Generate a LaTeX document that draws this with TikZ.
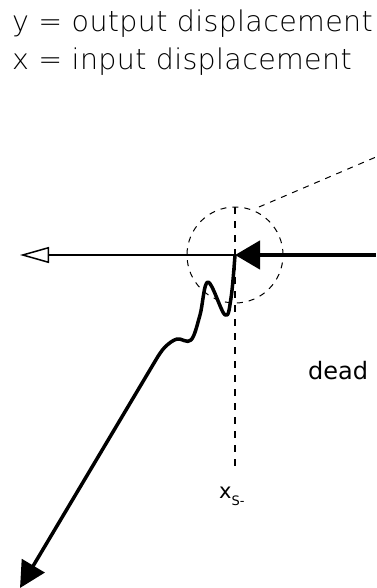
\documentclass[tikz,border=0pt]{standalone}
\usepackage{fontspec}
\setmainfont{DejaVu Sans}
\newfontfamily\legendfont[LetterSpace=1.2]{DejaVu Sans ExtraLight}
\newfontfamily\labelfont{DejaVu Sans}
\usetikzlibrary{arrows.meta}

\begin{document}
\begin{tikzpicture}[
  x=1pt, y=-1pt,
  legend/.style={anchor=base west, inner sep=0pt, font=\legendfont\fontsize{28.5}{32}\selectfont},
  axislabel/.style={anchor=base west, inner sep=0pt, font=\labelfont\fontsize{24}{28}\selectfont},
  thinline/.style={line width=1.5pt},
  thickline/.style={line width=4.5pt},
  curveline/.style={line width=3.5pt, line join=round},
  guide/.style={line width=1.8pt, dash pattern=on 7pt off 7pt},
  zoomline/.style={line width=1pt, dash pattern=on 6pt off 6pt}
]
\useasboundingbox (0,0) rectangle (376,588);

% legend
\node[legend] (ylegend) at (12,32) {y = output displacement};
\node[legend] (xlegend) at (12,70) {x = input displacement};

% points of the characteristic
\coordinate (xs) at (235,255);
\coordinate (guidetop) at (235,207);
\coordinate (guidebot) at (235,470);
\coordinate (outleft) at (20,255);
\coordinate (inright) at (376,255);
\coordinate (zoomstart) at (259,207);
\coordinate (zoomend) at (376,157);
\coordinate (trough) at (225,315);
\coordinate (peak) at (208,282);
\coordinate (bump) at (177,339);
\coordinate (kink) at (157,358);
\coordinate (tip) at (20,588);

% guide lines
\draw[guide] (guidetop) -- (guidebot);
\draw[zoomline] (xs) circle[radius=48pt];
\draw[zoomline] (zoomstart) -- (zoomend);

% output and input
\draw[thinline, -{Triangle[open, length=29pt, width=16pt]}] (xs) -- (outleft);
\draw[thickline, -{Triangle[length=25pt, width=28pt]}] (inright) -- (xs);
\draw[curveline, -{Triangle[length=26pt, width=26pt]}]
  plot[smooth, tension=0.6] coordinates {(xs) (231,298) (trough) (peak) (200,315) (191,340) (bump) (165,347) (kink)}
  -- (tip);

% labels
\node[axislabel] (deadlabel) at (308,379) {dead};
\node[anchor=base west, inner sep=0pt, font=\labelfont\fontsize{21}{24}\selectfont] (xslabel) at (219,498)
  {x\raisebox{-7pt}{\fontsize{13}{15}\selectfont S-}};
\end{tikzpicture}
\end{document}
